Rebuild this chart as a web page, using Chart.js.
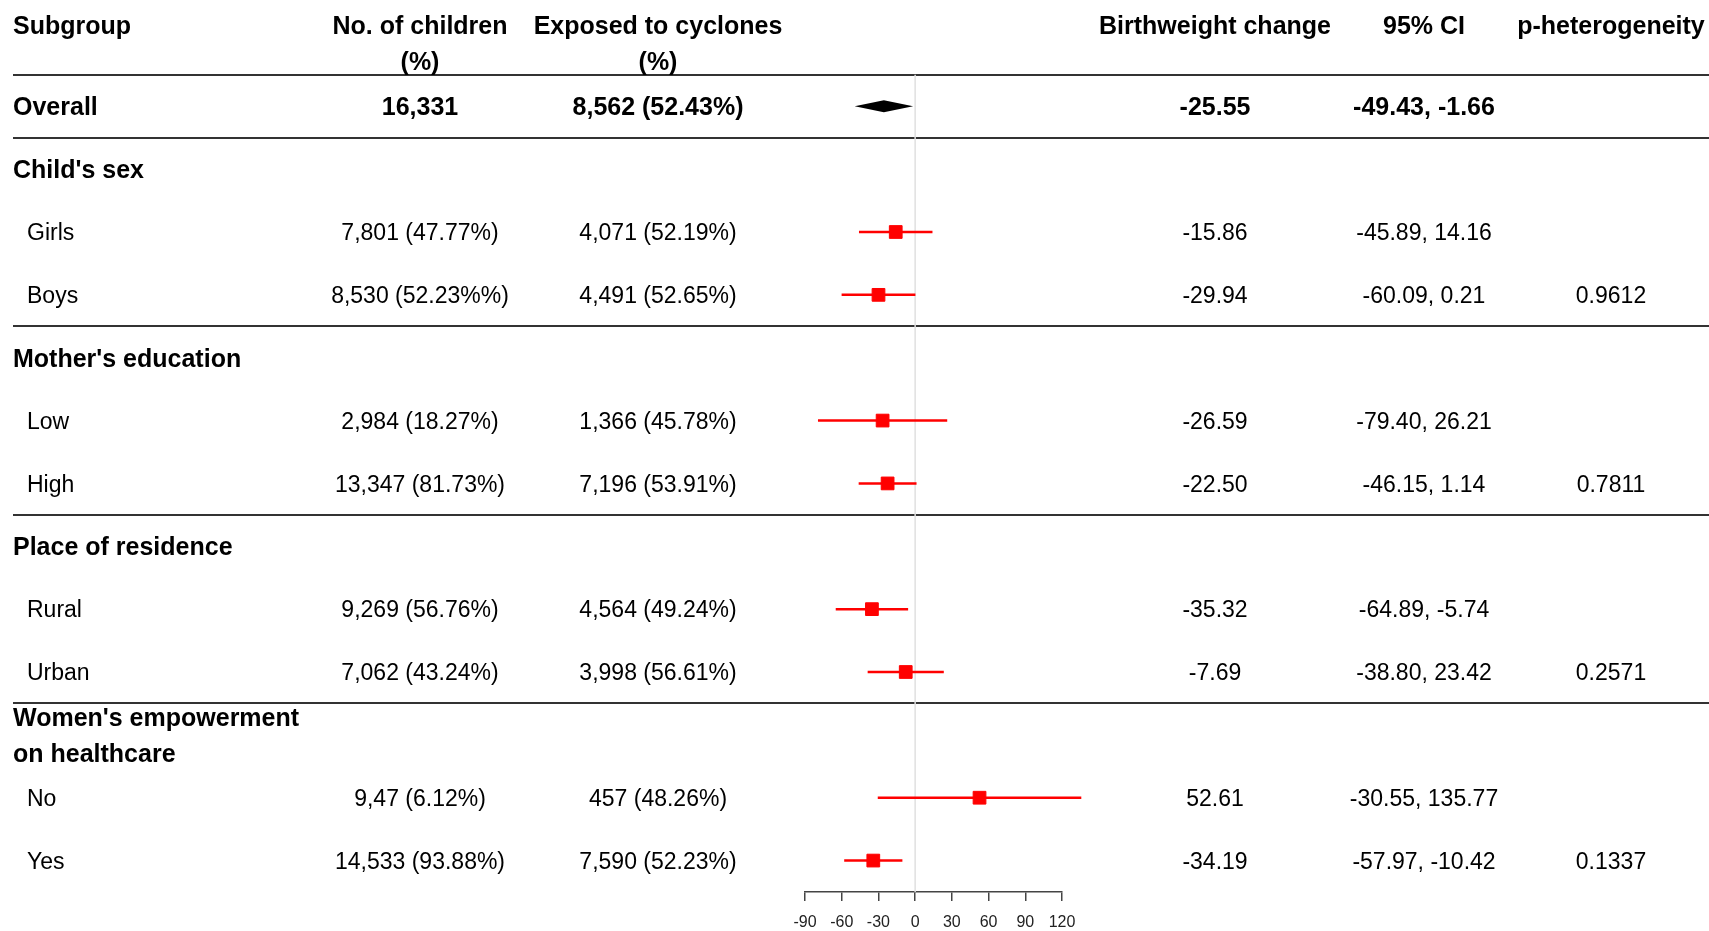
<!DOCTYPE html>
<html lang="en">
<head>
  <meta charset="UTF-8" />
  <title>Birthweight change by subgroup</title>
  <script src="https://cdn.jsdelivr.net/npm/chart.js"></script>
  <style>
    body { margin: 0; background: #fff; overflow: hidden; }
    #wrap { width: 1709px; height: 931px; position: relative; }
  </style>
</head>
<body>
  <div id="wrap"><canvas id="forestChart"></canvas></div>

  <script>
    // column headers
    const headers = ['Subgroup', 'No. of children', 'Exposed to cyclones', 'Birthweight change', '95% CI', 'p-heterogeneity'];

    // overall row
    const overallChildren = '16,331';
    const overallExposed = '8,562 (52.43%)';
    const overallEst = -25.55;
    const overallLo = -49.43;
    const overallHi = -1.66;

    // sections and the row slot they sit on
    const sectionTitles = [["Child's sex"], ["Mother's education"], ["Place of residence"], ["Women's empowerment", 'on healthcare']];
    const sectionSlots = [1, 4, 7, 10];

    // subgroup rows
    const subgroups = ['Girls', 'Boys', 'Low', 'High', 'Rural', 'Urban', 'No', 'Yes'];
    const rowSlots = [2, 3, 5, 6, 8, 9, 11, 12];
    const children = ['7,801 (47.77%)', '8,530 (52.23%%)', '2,984 (18.27%)', '13,347 (81.73%)', '9,269 (56.76%)', '7,062 (43.24%)', '9,47 (6.12%)', '14,533 (93.88%)'];
    const exposed = ['4,071 (52.19%)', '4,491 (52.65%)', '1,366 (45.78%)', '7,196 (53.91%)', '4,564 (49.24%)', '3,998 (56.61%)', '457 (48.26%)', '7,590 (52.23%)'];
    const estimates = [-15.86, -29.94, -26.59, -22.50, -35.32, -7.69, 52.61, -34.19];
    const lower = [-45.89, -60.09, -79.40, -46.15, -64.89, -38.80, -30.55, -57.97];
    const upper = [14.16, 0.21, 26.21, 1.14, -5.74, 23.42, 135.77, -10.42];
    const pHet = ['', '0.9612', '', '0.7811', '', '0.2571', '', '0.1337'];

    // separators between blocks (in row slots)
    const ruleSlots = [-0.5, 0.5, 3.5, 6.5, 9.5];

    const FONT = '"Liberation Sans", Arial, Helvetica, sans-serif';
    const col = { sub: 13, subItem: 27, children: 420, exposed: 658, est: 1215, ci: 1424, p: 1611 };
    const TXT_DY = 2; // middle baseline sits a little high

    const tablePlugin = {
      id: 'forestTable',
      beforeDatasetsDraw(chart) {
        const { ctx } = chart;
        const y = chart.scales.y;
        ctx.save();
        ctx.strokeStyle = '#333';
        ctx.lineWidth = 2;
        ruleSlots.forEach(s => {
          const py = Math.round(y.getPixelForValue(s));
          ctx.beginPath();
          ctx.moveTo(13, py);
          ctx.lineTo(1709, py);
          ctx.stroke();
        });
        ctx.restore();
      },
      afterDatasetsDraw(chart) {
        const { ctx } = chart;
        const x = chart.scales.x;
        const y = chart.scales.y;
        const rowY = v => y.getPixelForValue(v) + TXT_DY;
        ctx.save();
        ctx.fillStyle = '#000';
        ctx.textBaseline = 'middle';

        // header
        const hy = rowY(-1);
        ctx.font = 'bold 25px ' + FONT;
        ctx.textAlign = 'left';
        ctx.fillText(headers[0], col.sub, hy - 18);
        ctx.textAlign = 'center';
        ctx.fillText(headers[1], col.children, hy - 18);
        ctx.fillText('(%)', col.children, hy + 18);
        ctx.fillText(headers[2], col.exposed, hy - 18);
        ctx.fillText('(%)', col.exposed, hy + 18);
        ctx.fillText(headers[3], col.est, hy - 18);
        ctx.fillText(headers[4], col.ci, hy - 18);
        ctx.fillText(headers[5], col.p, hy - 18);

        // overall
        const oy = rowY(0);
        ctx.textAlign = 'left';
        ctx.fillText('Overall', col.sub, oy);
        ctx.textAlign = 'center';
        ctx.fillText(overallChildren, col.children, oy);
        ctx.fillText(overallExposed, col.exposed, oy);
        ctx.fillText(overallEst.toFixed(2), col.est, oy);
        ctx.fillText(overallLo.toFixed(2) + ', ' + overallHi.toFixed(2), col.ci, oy);

        // diamond for the overall estimate
        const dy = y.getPixelForValue(0);
        const xl = x.getPixelForValue(overallLo);
        const xm = x.getPixelForValue(overallEst);
        const xr = x.getPixelForValue(overallHi);
        ctx.beginPath();
        ctx.moveTo(xl, dy);
        ctx.lineTo(xm, dy - 6);
        ctx.lineTo(xr, dy);
        ctx.lineTo(xm, dy + 6);
        ctx.closePath();
        ctx.fillStyle = '#000';
        ctx.fill();

        // section titles
        ctx.textAlign = 'left';
        sectionTitles.forEach((lines, i) => {
          const sy = rowY(sectionSlots[i]);
          if (lines.length === 1) {
            ctx.fillText(lines[0], col.sub, sy);
          } else {
            ctx.fillText(lines[0], col.sub, sy - 18);
            ctx.fillText(lines[1], col.sub, sy + 18);
          }
        });

        // subgroup rows
        ctx.font = '23px ' + FONT;
        subgroups.forEach((name, i) => {
          const ry = rowY(rowSlots[i]);
          ctx.textAlign = 'left';
          ctx.fillText(name, col.subItem, ry);
          ctx.textAlign = 'center';
          ctx.fillText(children[i], col.children, ry);
          ctx.fillText(exposed[i], col.exposed, ry);
          ctx.fillText(estimates[i].toFixed(2), col.est, ry);
          ctx.fillText(lower[i].toFixed(2) + ', ' + upper[i].toFixed(2), col.ci, ry);
          if (pHet[i]) ctx.fillText(pHet[i], col.p, ry);
        });
        ctx.restore();
      }
    };

    const ciSets = subgroups.map((name, i) => ({
      type: 'line',
      label: name + ' CI',
      data: [{ x: lower[i], y: rowSlots[i] }, { x: upper[i], y: rowSlots[i] }],
      borderColor: '#ff0000',
      borderWidth: 2.5,
      pointRadius: 0,
      clip: false,
      order: 2
    }));

    new Chart(document.getElementById('forestChart'), {
      type: 'scatter',
      data: {
        datasets: [
          {
            type: 'line',
            label: 'zero',
            data: [{ x: 0, y: -0.5 }, { x: 0, y: 12.5 }],
            borderColor: '#e0e0e0',
            borderWidth: 1.5,
            pointRadius: 0,
            order: 3
          },
          ...ciSets,
          {
            label: 'estimate',
            data: estimates.map((v, i) => ({ x: v, y: rowSlots[i] })),
            pointStyle: 'rect',
            pointRadius: 9,
            backgroundColor: '#ff0000',
            borderColor: '#ff0000',
            borderWidth: 1,
            clip: false,
            order: 1
          }
        ]
      },
      options: {
        responsive: true,
        maintainAspectRatio: false,
        animation: false,
        layout: { padding: { left: 805, right: 647, top: 12, bottom: 0 } },
        plugins: { legend: { display: false }, tooltip: { enabled: false } },
        scales: {
          x: {
            type: 'linear',
            min: -90,
            max: 120,
            afterFit: s => { s.height = 39; },
            ticks: { stepSize: 30, padding: 12, color: '#222', font: { size: 16, family: FONT } },
            grid: { drawOnChartArea: false, drawTicks: true, tickLength: 9, color: '#444', lineWidth: 1.5 },
            border: { display: true, color: '#444', width: 1.5 }
          },
          y: { type: 'linear', display: false, reverse: true, min: -1.5, max: 12.5 }
        }
      },
      plugins: [tablePlugin]
    });
  </script>
</body>
</html>
